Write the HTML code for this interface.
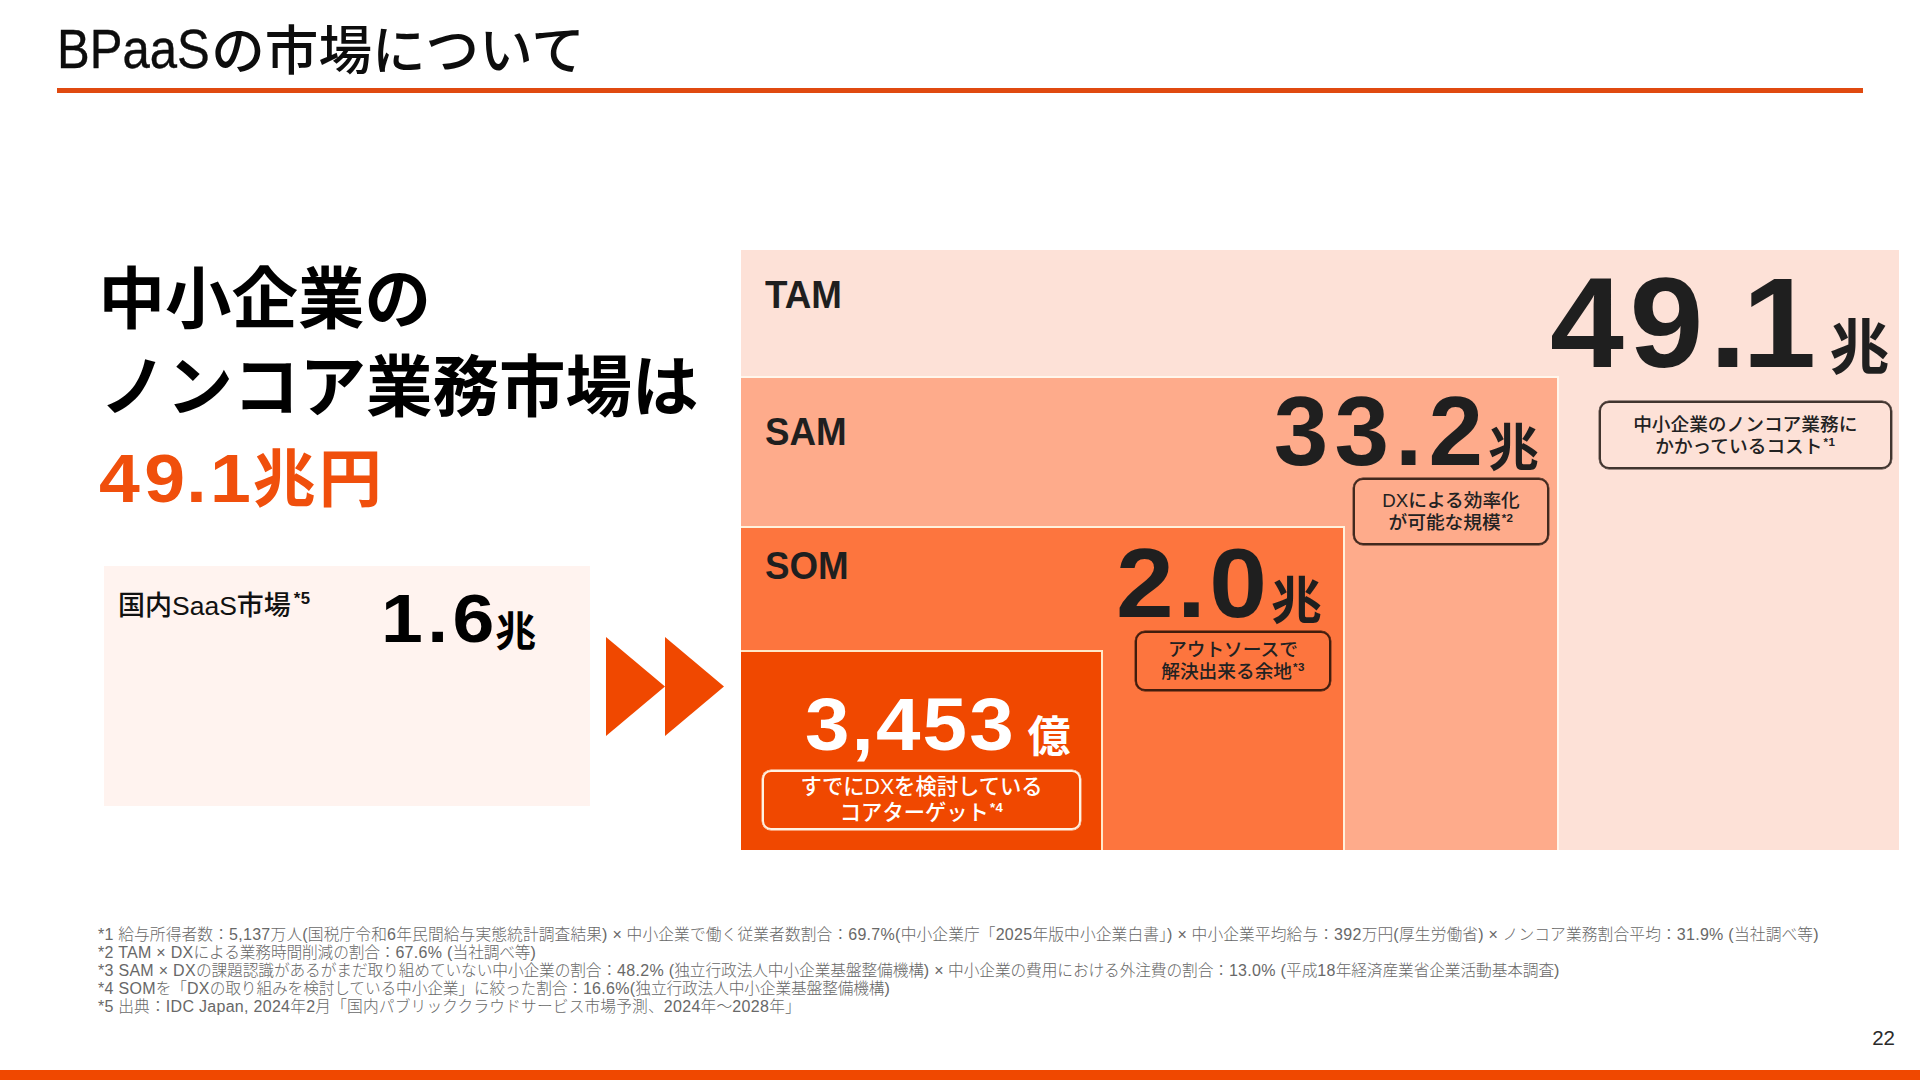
<!DOCTYPE html>
<html lang="ja">
<head>
<meta charset="utf-8">
<title>BPaaSの市場について</title>
<style>
  html, body { margin: 0; padding: 0; }
  body {
    width: 1920px; height: 1080px; overflow: hidden; position: relative;
    background: #ffffff; color: #111111;
    font-family: "Liberation Sans", "Noto Sans CJK JP", sans-serif;
  }
  .abs { position: absolute; white-space: nowrap; }
  sup.fn { font-size: 0.62em; font-weight: 700; letter-spacing: 0.4px; vertical-align: baseline; position: relative; top: -0.6em; line-height: 0; margin-left: 1px; }

  /* header */
  #title { left: 57px; top: 12.5px; font-size: 53.6px; line-height: 76px; font-weight: 500; color: #0d0d0d; }
  #title .l { font-size: 55px; font-weight: 400; display: inline-block; transform: scaleX(0.8915); transform-origin: 0 70%; margin-right: -17px; position: relative; top: -1.5px; -webkit-text-stroke: 0.4px #0d0d0d; }
  #rule { left: 57px; top: 88px; width: 1806px; height: 5px; background: #e04a10; }
  #footbar { left: 0; top: 1070px; width: 1920px; height: 10px; background: #f04800; }
  #pageno { right: 25px; top: 1026px; font-size: 20.5px; line-height: 24px; font-weight: 400; color: #2a2a2a; }

  /* left heading */
  .h { font-size: 66.5px; line-height: 90px; font-weight: 700; color: #000; }
  #h1 { left: 98.5px; top: 255px; }
  #h2 { left: 100px; top: 343px; }
  #h3n { left: 99px; top: 437.5px; font-size: 68px; line-height: 80px; color: #f04f0c; letter-spacing: 4px; transform: scaleX(1.079); transform-origin: 0 0; }
  #h3u { left: 252.7px; top: 434px; letter-spacing: 3px; font-size: 63px; line-height: 90px; color: #f04f0c; }

  /* left box */
  #lbox { left: 104px; top: 566px; width: 486px; height: 240px; background: #fff3ef; }
  #llabel { left: 118px; top: 587.5px; font-size: 27px; line-height: 36px; font-weight: 500; color: #111; }
  #llabel .l { font-size: 26.5px; }
  #llabel sup.fn { margin-left: 3px; }
  #ln { left: 381px; top: 578px; font-size: 68.4px; line-height: 80px; font-weight: 700; color: #000; letter-spacing: 4px; transform: scaleX(1.1); transform-origin: 0 0; }
  #lu { left: 495.3px; top: 601.5px; font-size: 41px; line-height: 60px; font-weight: 700; color: #000; }

  /* chart boxes */
  #tam { left: 741px; top: 250px; width: 1158px; height: 600px; background: #fde1d7; }
  #sam { left: 741px; top: 376px; width: 816px; height: 472px; background: #feab8b; border-top: 2px solid #fff6ec; border-right: 2px solid #fff6ec; box-sizing: content-box; }
  #som { left: 741px; top: 526px; width: 602px; height: 322px; background: #fd753e; border-top: 2px solid #fff1dc; border-right: 2px solid #fff1dc; }
  #core { left: 741px; top: 650px; width: 360px; height: 198px; background: #f04800; border-top: 2px solid #ffe8c8; border-right: 2px solid #ffe8c8; }

  .lab { left: 764.5px; font-size: 38.7px; line-height: 44px; font-weight: 700; color: #1f1f1f; transform: scaleX(0.95); transform-origin: 0 0; }

  .co { box-sizing: border-box; border: 2px solid rgba(12,4,0,0.78); box-shadow: 0 0 0 0.4px rgba(12,4,0,0.78); border-radius: 10px; text-align: center;
        font-size: 18.7px; line-height: 22px; font-weight: 500; color: #222; }

  /* big numbers: digits in Liberation (scaled wider), unit kanji in Noto */
  .num { font-weight: 700; color: #1f1f1f; transform-origin: 0 0; display: block; }
  .unit { font-family: "Liberation Sans", "Noto Sans CJK JP", sans-serif; font-weight: 700; color: #1f1f1f; }
  #n1 { left: 1550px; top: 252.5px; font-size: 127.4px; line-height: 140px; transform: scaleX(1.043); }
  #u1 { left: 1829.5px; top: 304.5px; font-size: 60px; line-height: 88px; }
  #n2 { left: 1273.7px; top: 375.5px; font-size: 98px; line-height: 110px; letter-spacing: 6.2px; }
  #u2 { left: 1488px; top: 411.5px; font-size: 51px; line-height: 74px; }
  #n3 { left: 1116.3px; top: 528px; font-size: 98px; line-height: 110px; letter-spacing: 3.1px; transform: scaleX(1.06); }
  #u3 { left: 1271px; top: 564.5px; font-size: 51px; line-height: 74px; }
  #n4 { left: 804.5px; top: 683px; font-size: 74px; line-height: 84px; color: #fff; transform: scaleX(1.08); letter-spacing: 2px; }
  #u4 { left: 1027.5px; top: 705px; font-size: 43px; line-height: 64px; color: #fff; }

  #c1 { left: 1598.5px; top: 401px; width: 293.5px; height: 68px; padding-top: 11px; }
  #c2 { left: 1353px; top: 478px; width: 196px; height: 66.5px; padding-top: 10px; }
  #c3 { left: 1135px; top: 631px; width: 196px; height: 60px; padding-top: 6px; }
  #c4 { left: 762px; top: 770px; width: 319px; height: 60px; padding-top: 2px; border-color: #fff2e2; box-shadow: 0 0 0 0.4px #fff2e2; color: #fff; font-size: 21.3px; line-height: 26px; border-radius: 9px; }

  #notes { left: 98px; top: 926px; font-size: 15.72px; line-height: 18.1px; font-weight: 300; color: #686868; }
  #notes .l { font-size: 16px; letter-spacing: 0.29px; }
  #notes div { white-space: nowrap; }
</style>
</head>
<body>
<div id="title" class="abs"><span class="l">BPaaS</span>の市場について</div>
<div id="rule" class="abs"></div>

<div id="h1" class="abs h">中小企業の</div>
<div id="h2" class="abs h">ノンコア業務市場は</div>
<div id="h3n" class="abs h">4<span style="letter-spacing:1.2px">9</span><span style="letter-spacing:3px">.</span>1</div><div id="h3u" class="abs h">兆円</div>

<div id="lbox" class="abs"></div>
<div id="llabel" class="abs">国内<span class="l">SaaS</span>市場<sup class="fn">*5</sup></div>
<div id="ln" class="abs">1.6</div><div id="lu" class="abs">兆</div>

<svg class="abs" style="left:600px; top:630px;" width="130" height="112" viewBox="600 630 130 112">
  <polygon points="606,637 665,686.5 606,736" fill="#f04800"/>
  <polygon points="665,637 724,686.5 665,736" fill="#f04800"/>
</svg>

<div id="tam" class="abs"></div>
<div id="sam" class="abs"></div>
<div id="som" class="abs"></div>
<div id="core" class="abs"></div>

<div id="l1" class="abs lab" style="top:273px;">TAM</div>
<div id="l2" class="abs lab" style="top:409.5px;">SAM</div>
<div id="l3" class="abs lab" style="top:543.5px;">SOM</div>


<div id="n1" class="abs num"><span style="letter-spacing:5.3px">4</span><span style="letter-spacing:5.9px">9</span><span style="letter-spacing:-4px">.</span>1</div><div id="u1" class="abs unit">兆</div>
<div id="n2" class="abs num">33.2</div><div id="u2" class="abs unit">兆</div>
<div id="n3" class="abs num">2.0</div><div id="u3" class="abs unit">兆</div>
<div id="n4" class="abs num">3,453</div><div id="u4" class="abs unit">億</div>

<div id="c1" class="abs co">中小企業のノンコア業務に<br>かかっているコスト<sup class="fn">*1</sup></div>
<div id="c2" class="abs co">DXによる効率化<br>が可能な規模<sup class="fn">*2</sup></div>
<div id="c3" class="abs co">アウトソースで<br>解決出来る余地<sup class="fn">*3</sup></div>
<div id="c4" class="abs co">すでにDXを検討している<br>コアターゲット<sup class="fn">*4</sup></div>

<div id="notes" class="abs">
<div style="letter-spacing:0.115px"><span class="l">*1</span> 給与所得者数：<span class="l">5,137</span>万人<span class="l">(</span>国税庁令和<span class="l">6</span>年民間給与実態統計調査結果<span class="l">) ×</span> 中小企業で働く従業者数割合：<span class="l">69.7%(</span>中小企業庁「<span class="l">2025</span>年版中小企業白書」<span class="l">) ×</span> 中小企業平均給与：<span class="l">392</span>万円<span class="l">(</span>厚生労働省<span class="l">) ×</span> ノンコア業務割合平均：<span class="l">31.9% (</span>当社調べ等<span class="l">)</span></div>
<div style="letter-spacing:-0.155px"><span class="l">*2 TAM × DX</span>による業務時間削減の割合：<span class="l">67.6% (</span>当社調べ等<span class="l">)</span></div>
<div style="letter-spacing:-0.120px"><span class="l">*3 SAM × DX</span>の課題認識があるがまだ取り組めていない中小企業の割合：<span class="l">48.2% (</span>独立行政法人中小企業基盤整備機構<span class="l">) ×</span> 中小企業の費用における外注費の割合：<span class="l">13.0% (</span>平成<span class="l">18</span>年経済産業省企業活動基本調査<span class="l">)</span></div>
<div style="letter-spacing:-0.151px"><span class="l">*4 SOM</span>を「<span class="l">DX</span>の取り組みを検討している中小企業」に絞った割合：<span class="l">16.6%(</span>独立行政法人中小企業基盤整備機構<span class="l">)</span></div>
<div style="letter-spacing:0.150px"><span class="l">*5</span> 出典：<span class="l">IDC Japan, 2024</span>年<span class="l">2</span>月「国内パブリッククラウドサービス市場予測、<span class="l">2024</span>年～<span class="l">2028</span>年」</div>
</div>

<div id="footbar" class="abs"></div>
<div id="pageno" class="abs">22</div>
</body>
</html>
